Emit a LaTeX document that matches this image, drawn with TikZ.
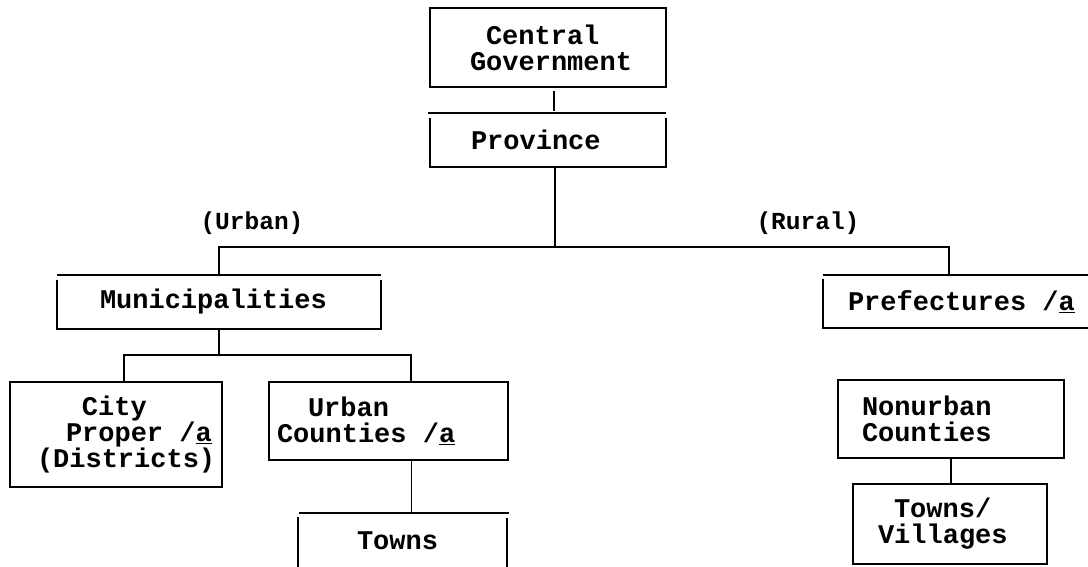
\documentclass[tikz,border=0pt]{standalone}
\usepackage{fontspec}
\setmainfont{Liberation Mono}
\newcommand{\msp}{\hspace{0.6em}}
\begin{document}
\begin{tikzpicture}[x=1pt,y=-1pt,
  txt/.style={font=\fontsize{27}{26}\selectfont\bfseries, inner xsep=0pt, inner ysep=0pt, align=left},
  fullbox/.style={txt, draw, line width=1.6pt},
  openbox/.style={txt},
  lbl/.style={font=\fontsize{24.5}{26}\selectfont\bfseries, inner sep=0pt},
  conn/.style={line width=1.4pt},
  edge/.style={line width=1.6pt}]
\useasboundingbox (0,0) rectangle (1088,566);

% boxes
\node[fullbox, text width=236pt, minimum height=79pt] (cg) at (548,47.5)
  {\hspace*{56pt}Central\\\hspace*{40pt}Government};
\node[openbox, text width=236pt, minimum height=54pt] (prov) at (548,140)
  {\hspace*{41pt}Province};
\node[openbox, text width=324pt, minimum height=53.5pt] (muni) at (219,301.75)
  {\hspace*{43pt}Municipalities};
\node[openbox, text width=252pt, minimum height=53pt] (pref) at (949,301.5)
  {\hspace*{25pt}Prefectures\msp/\underline{a}};
\node[fullbox, text width=212pt, minimum height=105pt] (city) at (116,434.5)
  {\hspace*{72pt}City\\\hspace*{56pt}Proper\msp/\underline{a}\\\hspace*{27pt}(Districts)};
\node[fullbox, text width=239pt, minimum height=78pt] (uc) at (388.5,421)
  {\hspace*{39pt}Urban\\\hspace*{8pt}Counties\msp/\underline{a}};
\node[openbox, text width=209pt, minimum height=55pt] (towns) at (402.5,540.5)
  {\hspace*{59pt}Towns};
\node[fullbox, text width=226pt, minimum height=78pt] (nu) at (951,419)
  {\hspace*{24pt}Nonurban\\\hspace*{24pt}Counties};
\node[fullbox, text width=194pt, minimum height=80pt] (tv) at (950,524)
  {\hspace*{41pt}Towns/\\\hspace*{25pt}Villages};

% labels
\node[lbl] (urban) at (252,223) {(Urban)};
\node[lbl] (rural) at (808,223) {(Rural)};

% open box outlines
\draw[edge] ([xshift=-2pt]prov.north west) -- (prov.north east);
\draw[edge] ([yshift=-5pt]prov.north west) -- (prov.south west) -- (prov.south east) -- ([yshift=-5pt]prov.north east);
\draw[edge] (muni.north west) -- (muni.north east);
\draw[edge] ([yshift=-5pt]muni.north west) -- (muni.south west) -- (muni.south east) -- ([yshift=-5pt]muni.north east);
\draw[edge] (pref.north west) -- ([xshift=13pt]pref.north east);
\draw[edge] ([yshift=-4pt]pref.north west) -- (pref.south west) -- ([xshift=13pt]pref.south east);
\draw[edge] ([xshift=1pt]towns.north west) -- ([xshift=2pt]towns.north east);
\draw[edge] ([yshift=-4pt]towns.north west) -- (towns.south west);
\draw[edge] ([yshift=-5pt]towns.north east) -- (towns.south east);

% connectors
\coordinate (hub) at (555,247);
\coordinate (mhub) at (219,355);
\draw[conn, shorten <=3pt, shorten >=2pt] ([xshift=6pt]cg.south) -- ([xshift=6pt]prov.north);
\draw[conn] ([xshift=7pt]prov.south) -- (hub);
\draw[conn] (muni.north) |- (hub) -| (pref.north);
\draw[conn] (muni.south) -- (mhub);
\draw[conn] ([xshift=8pt]city.north) |- (mhub) -| ([xshift=22.5pt]uc.north);
\draw[conn] ([xshift=23pt]uc.south) -- ++(0,53);
\draw[conn] (nu.south) -- (nu.south |- tv.north);
\end{tikzpicture}
\end{document}
